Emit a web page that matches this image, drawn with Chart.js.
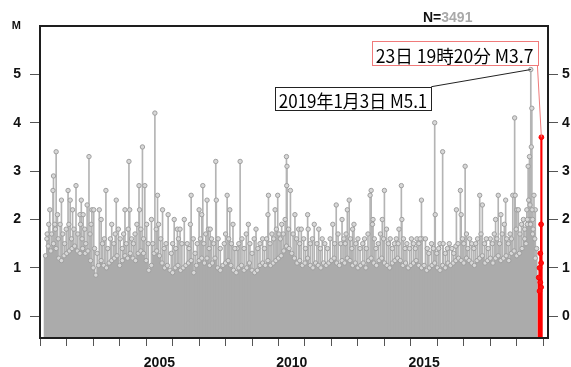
<!DOCTYPE html>
<html lang="ja">
<head>
  <meta charset="UTF-8">
  <title>M-T図</title>
  <script src="https://cdn.jsdelivr.net/npm/chart.js"></script>
  <style>
    html, body { margin: 0; padding: 0; background: #fff; }
    canvas { display: block; }
  </style>
</head>
<body>
  <canvas id="mtChart" width="571" height="367"></canvas>

  <script>
    // 軸の範囲
    const yearMin = 2000.49, yearMax = 2019.68;
    const magMin = -0.45, magMax = 6;
    const yearTicks = [2001, 2002, 2003, 2004, 2005, 2006, 2007, 2008, 2009, 2010,
                       2011, 2012, 2013, 2014, 2015, 2016, 2017, 2018, 2019];
    const magTicks = [0, 1, 2, 3, 4, 5];
    const totalCount = 3491;

    // 小さな地震が密集している部分 [年, M]
    const bulkEvents = [
      [2000.7,1.25],[2000.8,1.45],[2000.9,1.35],
      [2001.0,1.5],[2001.1,1.4],[2001.2,1.2],[2001.3,1.15],[2001.4,1.25],[2001.5,1.3],[2001.6,1.35],[2001.7,1.4],[2001.8,1.45],[2001.9,1.35],
      [2002.0,1.3],[2002.1,1.4],[2002.2,1.3],[2002.3,1.35],[2002.4,1.15],[2002.5,1.0],[2002.6,0.85],[2002.7,1.05],[2002.8,1.15],[2002.9,1.05],
      [2003.0,1.0],[2003.1,1.1],[2003.2,1.15],[2003.3,1.2],[2003.4,1.25],[2003.5,1.05],[2003.6,1.15],[2003.7,1.25],[2003.8,1.2],[2003.9,1.3],
      [2004.0,1.2],[2004.1,1.15],[2004.2,1.3],[2004.3,1.35],[2004.4,1.3],[2004.5,1.15],[2004.6,0.95],[2004.7,1.05],[2004.8,1.3],[2004.9,1.35],
      [2005.0,1.25],[2005.1,1.1],[2005.2,1.0],[2005.3,1.05],[2005.4,0.95],[2005.5,0.9],[2005.6,1.0],[2005.7,1.05],[2005.8,0.95],[2005.9,1.0],
      [2006.0,1.05],[2006.1,1.1],[2006.2,1.15],[2006.3,0.9],[2006.4,1.05],[2006.5,1.15],[2006.6,1.2],[2006.7,1.1],[2006.8,1.2],[2006.9,1.05],
      [2007.0,1.1],[2007.1,1.2],[2007.2,1.0],[2007.3,0.95],[2007.4,1.05],[2007.5,1.1],[2007.6,1.15],[2007.7,1.05],[2007.8,0.95],[2007.9,0.9],
      [2008.0,1.0],[2008.1,1.05],[2008.2,0.95],[2008.3,1.0],[2008.4,1.1],[2008.5,0.95],[2008.6,0.9],[2008.7,0.95],[2008.8,1.05],[2008.9,1.1],
      [2009.0,1.05],[2009.1,1.15],[2009.2,1.05],[2009.3,1.1],[2009.4,1.15],[2009.5,1.2],[2009.6,1.25],[2009.7,1.35],[2009.8,1.45],[2009.9,1.4],
      [2010.0,1.3],[2010.1,1.2],[2010.2,1.1],[2010.3,1.15],[2010.4,1.05],[2010.5,1.1],[2010.6,1.2],[2010.7,1.05],[2010.8,1.0],[2010.9,1.1],
      [2011.0,1.05],[2011.1,1.0],[2011.2,1.1],[2011.3,1.05],[2011.4,1.1],[2011.5,1.15],[2011.6,1.2],[2011.7,1.1],[2011.8,1.05],[2011.9,1.15],
      [2012.0,1.1],[2012.1,1.2],[2012.2,1.15],[2012.3,1.05],[2012.4,1.1],[2012.5,1.0],[2012.6,1.05],[2012.7,1.1],[2012.8,1.0],[2012.9,1.15],
      [2013.0,1.2],[2013.1,1.1],[2013.2,1.05],[2013.3,1.15],[2013.4,1.2],[2013.5,1.1],[2013.6,1.05],[2013.7,1.0],[2013.8,1.1],[2013.9,1.15],
      [2014.0,1.2],[2014.1,1.15],[2014.2,1.05],[2014.3,1.1],[2014.4,1.0],[2014.5,1.05],[2014.6,1.1],[2014.7,1.15],[2014.8,1.05],[2014.9,1.0],
      [2015.0,1.05],[2015.1,0.95],[2015.2,1.0],[2015.3,1.05],[2015.4,1.1],[2015.5,1.0],[2015.6,0.95],[2015.7,1.05],[2015.8,1.0],[2015.9,1.1],
      [2016.0,1.05],[2016.1,1.1],[2016.2,1.15],[2016.3,1.2],[2016.4,1.15],[2016.5,1.1],[2016.6,1.2],[2016.7,1.15],[2016.8,1.1],[2016.9,1.05],
      [2017.0,1.15],[2017.1,1.2],[2017.2,1.25],[2017.3,1.1],[2017.4,1.15],[2017.5,1.2],[2017.6,1.1],[2017.7,1.2],[2017.8,1.25],[2017.9,1.15],
      [2018.0,1.2],[2018.1,1.25],[2018.2,1.15],[2018.3,1.3],[2018.4,1.35],[2018.5,1.25],[2018.6,1.3],[2018.7,1.4],[2018.8,1.6],[2018.9,1.9],
      [2019.0,2.0],[2019.1,1.7],[2019.2,1.2]
    ];

    // 目立つ地震 [年, M]
    const events = [
      [2000.76,1.7],[2000.86,2.2],[2000.98,2.6],[2001.0,2.9],[2001.05,1.9],[2001.1,3.4],[2001.15,2.1],[2001.3,2.4],
      [2001.55,2.6],[2001.63,2.4],[2001.72,2.2],[2001.85,2.7],[2002.05,2.4],[2002.0,2.1],[2002.12,2.1],[2002.27,2.3],
      [2002.34,3.3],[2002.45,2.2],[2002.52,2.2],[2002.73,2.2],[2002.8,2.0],[2002.98,2.6],[2003.2,1.9],[2003.37,2.4],
      [2003.45,1.8],[2003.7,2.2],[2003.85,3.2],[2003.88,2.2],[2004.23,2.7],[2004.25,2.2],[2004.36,3.5],[2004.45,2.7],
      [2004.7,2.0],[2004.83,4.2],[2004.93,2.5],[2005.12,2.2],
      [2005.33,2.1],[2005.56,2.0],[2005.68,1.8],[2005.78,1.8],[2005.94,2.0],[2006.2,2.5],[2006.17,1.9],[2006.5,2.2],
      [2006.6,2.1],[2006.64,2.7],[2006.8,2.4],[2006.85,1.8],[2006.92,1.8],[2007.13,3.2],[2007.15,2.4],[2007.56,2.5],
      [2007.66,2.2],[2007.78,1.9],[2007.94,1.4],[2008.05,3.2],[2008.28,1.7],[2008.36,1.9],[2008.65,1.8],[2009.1,2.1],
      [2009.12,2.5],[2009.37,2.2],[2009.47,2.5],[2009.52,1.7],[2009.8,3.3],[2009.82,3.1],[2009.81,2.7],[2009.95,2.6],
      [2010.12,2.1],[2010.26,1.8],[2010.36,1.8],[2010.6,2.1],[2010.62,1.8],[2010.85,1.9],[2011.02,1.8],[2011.55,1.9],
      [2011.68,2.3],[2011.9,2.0],[2012.05,1.7],[2012.1,2.2],[2012.17,2.4],[2012.3,1.8],[2012.35,1.9],[2012.88,1.7],
      [2013.05,1.9],[2013.0,2.6],[2012.96,2.5],[2013.07,2.0],[2013.42,2.0],[2013.5,2.6],[2013.58,1.8],[2014.05,1.8],
      [2014.14,2.7],[2014.16,2.0],[2014.73,1.6],[2014.9,2.4],
      [2014.93,1.6],[2015.05,1.6],[2015.28,1.5],[2015.4,4.0],[2015.42,2.1],[2015.6,1.5],[2015.7,3.4],[2015.72,1.5],
      [2016.2,1.45],[2016.22,2.2],[2016.37,2.6],[2016.4,2.1],[2016.55,3.1],[2016.6,1.7],[2016.8,1.5],[2017.1,2.5],
      [2017.2,2.3],[2017.5,1.6],[2017.7,2.0],[2017.8,2.5],[2017.9,2.1],[2018.03,1.9],[2018.08,2.4],[2018.35,2.5],
      [2018.42,4.1],[2018.44,2.5],[2018.5,2.2],[2018.56,2.2],[2018.85,1.5],[2018.88,2.2],[2018.93,3.1],[2018.98,3.3],
      [2019.03,5.1],[2019.07,4.3],[2019.05,3.5],[2019.15,2.5],[2019.2,2.2],
      [2000.75,1.6],[2000.82,1.9],[2000.93,1.7],[2001.07,1.8],[2001.18,1.6],[2001.25,1.9],[2001.35,1.7],[2001.42,1.5],
      [2001.48,1.8],[2001.58,1.9],[2001.68,1.6],[2001.77,1.8],[2001.92,1.7],[2002.02,1.9],[2002.08,1.6],[2002.18,1.8],
      [2002.22,1.5],[2002.38,1.7],[2002.42,1.9],[2002.55,1.4],[2002.65,1.3],[2002.85,1.5],[2002.92,1.6],[2003.05,1.4],
      [2003.15,1.6],[2003.28,1.5],[2003.33,1.7],[2003.52,1.6],[2003.6,1.4],[2003.65,1.7],[2003.75,1.5],[2003.82,1.8],
      [2003.95,1.6],[2004.02,1.5],[2004.08,1.7],[2004.15,1.9],[2004.3,1.8],[2004.4,1.6],[2004.52,1.9],[2004.58,1.5],
      [2004.75,1.5],[2004.88,1.8],[2004.97,1.9],[2005.05,1.6],[2005.18,1.4],[2005.25,1.5],[2005.45,1.3],[2005.5,1.5],
      [2005.62,1.4],[2005.72,1.6],[2005.85,1.5],[2006.05,1.5],[2006.12,1.4],[2006.28,1.6],[2006.35,1.3],[2006.43,1.5],
      [2006.55,1.6],[2006.68,1.5],[2006.75,1.7],[2006.88,1.4],[2006.97,1.6],[2007.05,1.5],[2007.22,1.6],[2007.3,1.4],
      [2007.45,1.5],[2007.5,1.7],[2007.62,1.6],[2007.72,1.5],[2007.85,1.4],[2008.0,1.5],[2008.12,1.6],[2008.2,1.4],
      [2008.42,1.5],[2008.5,1.3],[2008.58,1.6],[2008.72,1.4],[2008.8,1.5],[2008.9,1.6],[2008.97,1.4],[2009.05,1.6],
      [2009.18,1.5],[2009.25,1.7],[2009.32,1.6],[2009.42,1.8],[2009.57,1.6],[2009.62,1.9],[2009.68,1.7],[2009.75,2.0],
      [2009.88,1.8],[2010.05,1.7],[2010.18,1.6],[2010.3,1.5],[2010.45,1.6],[2010.52,1.4],[2010.7,1.5],[2010.78,1.6],
      [2010.95,1.5],[2011.08,1.4],[2011.15,1.6],[2011.25,1.5],[2011.35,1.4],[2011.45,1.6],[2011.62,1.5],[2011.75,1.7],
      [2011.85,1.5],[2011.97,1.6],[2012.02,1.5],[2012.22,1.6],[2012.27,1.4],[2012.42,1.5],[2012.5,1.6],[2012.58,1.4],
      [2012.68,1.5],[2012.75,1.6],[2012.82,1.4],[2013.12,1.6],[2013.18,1.4],[2013.27,1.5],[2013.35,1.7],[2013.47,1.6],
      [2013.65,1.5],[2013.72,1.6],[2013.8,1.4],[2013.88,1.5],[2013.95,1.6],[2014.02,1.5],[2014.22,1.6],[2014.28,1.4],
      [2014.35,1.5],[2014.45,1.4],[2014.52,1.6],[2014.6,1.5],[2014.67,1.4],[2014.8,1.5],[2014.85,1.6],[2015.12,1.4],
      [2015.18,1.3],[2015.35,1.4],[2015.48,1.3],[2015.55,1.4],[2015.8,1.3],[2015.88,1.4],[2015.95,1.5],[2016.05,1.4],
      [2016.12,1.3],[2016.28,1.5],[2016.45,1.6],[2016.5,1.5],[2016.65,1.4],[2016.72,1.6],[2016.88,1.4],[2016.95,1.5],
      [2017.02,1.6],[2017.15,1.7],[2017.28,1.5],[2017.35,1.6],[2017.42,1.4],[2017.58,1.5],[2017.65,1.7],[2017.75,1.6],
      [2017.85,1.5],[2017.95,1.7],[2018.12,1.6],[2018.18,1.5],[2018.25,1.7],[2018.3,1.6],[2018.48,1.8],[2018.62,1.7],
      [2018.68,1.9],[2018.75,2.0],[2018.8,1.8],[2018.9,2.0],[2018.95,2.4],[2019.0,2.3],[2019.02,1.9],[2019.08,2.2],
      [2019.1,2.0],[2019.12,1.8],[2019.18,1.6],[2019.25,1.4]
    ];

    // 最近の地震（赤） [年, M]
    const recentEvents = [
      [2019.43,3.7],[2019.42,1.9],[2019.39,1.3],[2019.42,1.1],[2019.36,1.0],[2019.33,0.8],
      [2019.39,0.7],[2019.42,0.6],[2019.36,0.52]
    ];

    // 吹き出し
    const callouts = [
      { text: '2019年1月3日 M5.1', left: 2009.36, right: 2015.27, top: 4.745, bottom: 4.263,
        target: [2019.03, 5.1], from: 'top', color: '#222222' },
      { text: '23日 19時20分 M3.7', left: 2013.02, right: 2019.28, top: 5.683, bottom: 5.187,
        target: [2019.43, 3.7], from: 'bottom', color: '#f07a7a' }
    ];

    const toPoints = list => list.map(([t, m]) => ({ x: t, y: m }));
    const tickFont = { family: '"Liberation Sans", Arial, sans-serif', size: 14, weight: 'bold' };
    const mFont = { family: '"Liberation Sans", Arial, sans-serif', size: 11, weight: 'bold' };

    const framePlugin = {
      id: 'mtFrame',
      afterDatasetsDraw(chart) {
        const { ctx, chartArea: a } = chart;
        ctx.save();
        ctx.lineWidth = 2;
        ctx.strokeStyle = '#1e1e1e';
        ctx.strokeRect(a.left, a.top, a.right - a.left, a.bottom - a.top);
        ctx.restore();
      },
      afterDraw(chart) {
        const { ctx, chartArea: a } = chart;
        const xs = chart.scales.x, ys = chart.scales.y;

        callouts.forEach(c => {
          const l = xs.getPixelForValue(c.left), r = xs.getPixelForValue(c.right);
          const t = ys.getPixelForValue(c.top), b = ys.getPixelForValue(c.bottom);
          const px = xs.getPixelForValue(c.target[0]), py = ys.getPixelForValue(c.target[1]);
          ctx.save();
          ctx.strokeStyle = c.color;
          ctx.lineWidth = 1;
          ctx.beginPath();
          ctx.moveTo(r, c.from === 'top' ? t : b);
          ctx.lineTo(px, py);
          ctx.stroke();
          ctx.fillStyle = '#fff';
          ctx.fillRect(l, t, r - l, b - t);
          ctx.strokeRect(Math.round(l) + 0.5, Math.round(t) + 0.5, Math.round(r - l), Math.round(b - t));
          ctx.font = '18px "Noto Sans CJK JP", sans-serif';
          ctx.fillStyle = '#000';
          ctx.textBaseline = 'alphabetic';
          const w = ctx.measureText(c.text).width;
          const target = r - l - 8;
          ctx.translate(l + 4, b - 2);
          ctx.scale(target / w, 1);
          ctx.fillText(c.text, 0, 0);
          ctx.restore();
        });

        // 件数
        ctx.save();
        ctx.font = 'bold 14px "Liberation Sans", Arial, sans-serif';
        ctx.textBaseline = 'alphabetic';
        const nx = a.right - 125, ny = a.top - 4;
        ctx.fillStyle = '#111';
        ctx.fillText('N=', nx, ny);
        const nw = ctx.measureText('N=').width;
        ctx.fillStyle = '#a9a9a9';
        ctx.fillText(String(totalCount), nx + nw, ny);
        ctx.restore();
      }
    };

    const ctx = document.getElementById('mtChart').getContext('2d');

    new Chart(ctx, {
      type: 'bar',
      data: {
        datasets: [
          {
            type: 'scatter',
            data: toPoints(recentEvents),
            pointRadius: 2.4,
            pointBorderWidth: 1,
            pointBackgroundColor: '#ff1010',
            pointBorderColor: '#ff0000',
            order: 0
          },
          {
            type: 'scatter',
            data: toPoints(bulkEvents.concat(events)),
            pointRadius: 2.2,
            pointBorderWidth: 1,
            pointBackgroundColor: '#d8d8d8',
            pointBorderColor: '#9e9e9e',
            order: 1
          },
          {
            type: 'bar',
            data: toPoints(recentEvents),
            base: magMin,
            barThickness: 1.5,
            grouped: false,
            backgroundColor: '#ff0000',
            order: 2
          },
          {
            type: 'bar',
            data: toPoints(bulkEvents),
            base: magMin,
            barThickness: 3,
            grouped: false,
            backgroundColor: '#ababab',
            order: 3
          },
          {
            type: 'bar',
            data: toPoints(events),
            base: magMin,
            barThickness: 1,
            grouped: false,
            backgroundColor: '#b4b4b4',
            order: 4
          }
        ]
      },
      options: {
        responsive: false,
        animation: false,
        events: [],
        layout: { padding: { top: 26, left: 0, right: 0, bottom: 0 } },
        plugins: { legend: { display: false }, tooltip: { enabled: false } },
        scales: {
          x: {
            type: 'linear',
            position: 'bottom',
            min: yearMin,
            max: yearMax,
            offset: false,
            afterBuildTicks: s => { s.ticks = yearTicks.map(v => ({ value: v })); },
            afterFit: s => { s.height = 29; },
            border: { display: false },
            grid: { drawOnChartArea: false, tickLength: 8, color: '#555' },
            ticks: {
              autoSkip: false,
              maxRotation: 0,
              padding: 9,
              color: '#111',
              font: tickFont,
              callback: v => (v % 5 === 0 ? String(v) : '')
            }
          },
          y: {
            type: 'linear',
            position: 'left',
            min: magMin,
            max: magMax,
            afterBuildTicks: s => { s.ticks = magTicks.concat([magMax]).map(v => ({ value: v })); },
            afterFit: s => { s.width = 40; },
            border: { display: false },
            grid: {
              drawOnChartArea: false,
              tickLength: 10,
              color: c => (c.tick && c.tick.value === magMax ? 'rgba(0,0,0,0)' : '#555')
            },
            ticks: {
              padding: 9,
              color: '#111',
              font: c => (c.tick && c.tick.value === magMax ? mFont : tickFont),
              callback: v => (v === magMax ? 'M' : String(v))
            }
          },
          y2: {
            type: 'linear',
            position: 'right',
            min: magMin,
            max: magMax,
            afterBuildTicks: s => { s.ticks = magTicks.map(v => ({ value: v })); },
            afterFit: s => { s.width = 23; },
            border: { display: false },
            grid: { drawOnChartArea: false, tickLength: 10, color: '#555' },
            ticks: { padding: 4, color: '#111', font: tickFont }
          }
        }
      },
      plugins: [framePlugin]
    });
  </script>
</body>
</html>
